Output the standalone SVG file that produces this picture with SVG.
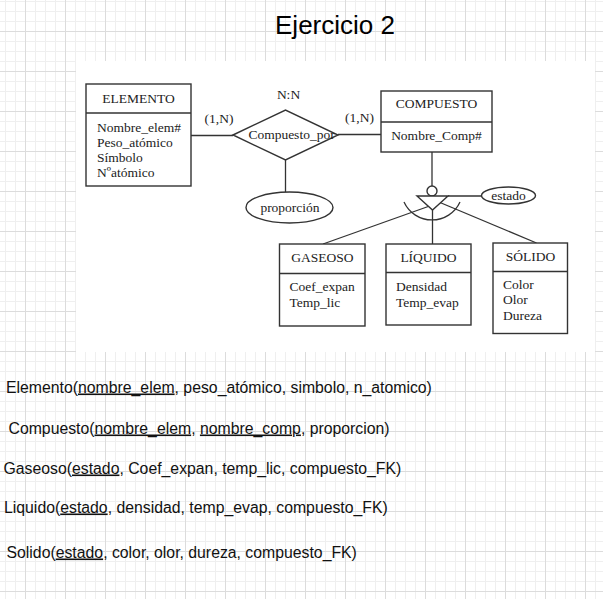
<svg xmlns="http://www.w3.org/2000/svg" width="603" height="599" viewBox="0 0 603 599">
<defs>
<pattern id="grid" x="5" y="1" width="40" height="40" patternUnits="userSpaceOnUse">
<path d="M0.5,0V40M10.5,0V40M30.5,0V40M0,0.5H40M0,10.5H40M0,20.5H40" stroke="#efefef" stroke-width="1" fill="none"/>
<path d="M20.5,0V40M0,30.5H40" stroke="#dcdcdc" stroke-width="1" fill="none"/>
</pattern>
<style>
.ln{stroke:#333;stroke-width:1.3;fill:none}
.bx{stroke:#333;stroke-width:1.4;fill:#fff}
.er{font-family:"Liberation Serif","Times New Roman",serif;font-size:13.5px;fill:#222}
.c{text-anchor:middle}
.rel{font-family:"Liberation Sans",Arial,sans-serif;font-size:15.8px;fill:#111}
.u{text-decoration:underline}
</style>
</defs>
<rect width="603" height="599" fill="#fff"/>
<rect width="603" height="599" fill="url(#grid)"/>
<rect x="76" y="61" width="519" height="291" fill="#fff"/>
<text x="335" y="34" text-anchor="middle" font-family="'Liberation Sans',Arial,sans-serif" font-size="26" fill="#000">Ejercicio 2</text>

<g id="connectors">
<line class="ln" x1="191" y1="135.5" x2="233" y2="135.5"/>
<line class="ln" x1="338" y1="134.5" x2="381" y2="134.5"/>
<line class="ln" x1="285.5" y1="160" x2="285.5" y2="192"/>
<line class="ln" x1="432" y1="152" x2="432" y2="186"/>
<line class="ln" x1="448" y1="196" x2="482" y2="196"/>
<line class="ln" x1="431" y1="205.5" x2="323" y2="244"/>
<line class="ln" x1="432.5" y1="210" x2="432.5" y2="244"/>
<line class="ln" x1="440" y1="202.5" x2="536.5" y2="243"/>
</g>

<g id="elemento">
<rect class="bx" x="86" y="84" width="105" height="102"/>
<line class="ln" x1="86" y1="113" x2="191" y2="113"/>
<text class="er c" x="138.5" y="103" font-size="14.5">ELEMENTO</text>
<text class="er" x="97" y="132">Nombre_elem#</text>
<text class="er" x="97" y="147">Peso_atómico</text>
<text class="er" x="97" y="162">Símbolo</text>
<text class="er" x="97" y="177">Nºatómico</text>
</g>

<g id="compuesto_por">
<polygon class="bx" points="233,135 285.5,110 338,135 285.5,160"/>
<text class="er c" x="291.5" y="139" font-size="13">Compuesto_por</text>
<text class="er c" x="288.5" y="99">N:N</text>
<text class="er c" x="219" y="123" font-size="13">(1,N)</text>
<text class="er c" x="359.5" y="122" font-size="13">(1,N)</text>
</g>

<g id="proporcion">
<ellipse class="bx" cx="289.5" cy="207.5" rx="43.5" ry="15.5"/>
<text class="er c" x="290" y="212">proporción</text>
</g>

<g id="compuesto">
<rect class="bx" x="381" y="91" width="111" height="61"/>
<line class="ln" x1="381" y1="122" x2="492" y2="122"/>
<text class="er c" x="436.5" y="108">COMPUESTO</text>
<text class="er c" x="436.5" y="140" font-size="13">Nombre_Comp#</text>
</g>

<g id="jerarquia">
<circle class="bx" cx="432" cy="191" r="5"/>
<polygon class="bx" points="417,196 448,196 432.5,210"/>
<path class="ln" d="M404,202 A30.8,30.8 0 0 0 460,202"/>
</g>

<g id="estado">
<ellipse class="bx" cx="508.5" cy="195.5" rx="27" ry="8.5"/>
<text class="er c" x="508.5" y="200">estado</text>
</g>

<g id="gaseoso">
<rect class="bx" x="279.5" y="244" width="85.5" height="82"/>
<line class="ln" x1="279.5" y1="273.5" x2="365" y2="273.5"/>
<text class="er c" x="322.5" y="262">GASEOSO</text>
<text class="er" x="289.5" y="290.5">Coef_expan</text>
<text class="er" x="289.5" y="306.5">Temp_lic</text>
</g>

<g id="liquido">
<rect class="bx" x="386" y="244" width="85" height="81"/>
<line class="ln" x1="386" y1="272.5" x2="471" y2="272.5"/>
<text class="er c" x="428.5" y="262">LÍQUIDO</text>
<text class="er" x="396" y="290.5">Densidad</text>
<text class="er" x="396" y="306.5">Temp_evap</text>
</g>

<g id="solido">
<rect class="bx" x="493" y="243" width="74.5" height="90.5"/>
<line class="ln" x1="493" y1="271.5" x2="567.5" y2="271.5"/>
<text class="er c" x="530.5" y="261">SÓLIDO</text>
<text class="er" x="503" y="288.5">Color</text>
<text class="er" x="503" y="304">Olor</text>
<text class="er" x="503" y="320">Dureza</text>
</g>

<g id="relaciones">
<text class="rel" x="6" y="392.5">Elemento(<tspan class="u">nombre_elem</tspan>, peso_atómico, simbolo, n_atomico)</text>
<text class="rel" x="8.5" y="433.5">Compuesto(<tspan class="u">nombre_elem</tspan>, <tspan class="u">nombre_comp</tspan>, proporcion)</text>
<text class="rel" x="3.5" y="473.5">Gaseoso(<tspan class="u">estado</tspan>, Coef_expan, temp_lic, compuesto_FK)</text>
<text class="rel" x="4" y="512.5">Liquido(<tspan class="u">estado</tspan>, densidad, temp_evap, compuesto_FK)</text>
<text class="rel" x="6.5" y="557.5">Solido(<tspan class="u">estado</tspan>, color, olor, dureza, compuesto_FK)</text>
</g>
</svg>
